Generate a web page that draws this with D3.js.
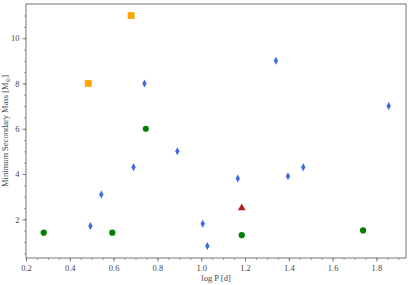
<!DOCTYPE html>
<html>
<head>
<meta charset="utf-8">
<script src="https://cdn.jsdelivr.net/npm/d3@7"></script>
<style>
  body { margin: 0; background: #fff; }
  text { font-family: "Liberation Serif", "DejaVu Serif", serif; }
</style>
</head>
<body>
<div id="chart"></div>
<script>
// binaries: log P [d] vs minimum secondary mass
var diamondP = [0.494, 0.544, 0.691, 0.741, 0.891, 1.007, 1.028, 1.167, 1.341, 1.396, 1.466, 1.856];
var diamondM = [1.70, 3.10, 4.30, 8.0, 5.0, 1.80, 0.82, 3.80, 9.0, 3.90, 4.30, 7.0];
var circleP = [0.281, 0.594, 0.747, 1.185, 1.739];
var circleM = [1.41, 1.41, 6.0, 1.30, 1.51];
var squareP = [0.484, 0.680];
var squareM = [8.0, 11.0];
var triangleP = [1.185];
var triangleM = [2.5];

var xTicks = [0.2, 0.4, 0.6, 0.8, 1.0, 1.2, 1.4, 1.6, 1.8];
var yTicks = [2, 4, 6, 8, 10];

function zip(a, b) { return a.map(function(v, i) { return {p: v, m: b[i]}; }); }

var margin = {top: 4, right: 5, bottom: 27, left: 26},
    width = 411 - margin.left - margin.right,
    height = 285 - margin.top - margin.bottom;

var x = d3.scaleLinear().domain([0.2, 1.935]).range([0, width]);
var y = d3.scaleLinear().domain([0.29, 11.51]).range([height, 0]);

var svg = d3.select("#chart").append("svg")
    .attr("width", 411)
    .attr("height", 285)
  .append("g")
    .attr("transform", "translate(" + margin.left + "," + margin.top + ")");

var axisCol = "#666";
var textCol = "#444";

// minor ticks
var xMinor = d3.range(0.2, 1.93, 0.05).map(function(v) { return +v.toFixed(2); });
var yMinor = d3.range(0.5, 11.5, 0.5).map(function(v) { return +v.toFixed(1); });

svg.append("g")
    .attr("transform", "translate(0," + height + ")")
    .call(d3.axisBottom(x).tickValues(xMinor).tickSize(2).tickFormat(""))
    .call(function(g) { g.select(".domain").remove(); g.selectAll("line").attr("stroke", axisCol).attr("stroke-width", 0.6); });

svg.append("g")
    .call(d3.axisLeft(y).tickValues(yMinor).tickSize(2).tickFormat(""))
    .call(function(g) { g.select(".domain").remove(); g.selectAll("line").attr("stroke", axisCol).attr("stroke-width", 0.6); });

// major ticks
svg.append("g")
    .attr("transform", "translate(0," + height + ")")
    .call(d3.axisBottom(x).tickValues(xTicks).tickSize(3.5).tickPadding(3).tickFormat(d3.format(".1f")))
    .call(function(g) {
        g.select(".domain").remove();
        g.selectAll("line").attr("stroke", axisCol).attr("stroke-width", 0.8);
        g.selectAll("text").attr("fill", textCol).style("font-size", "8.5px").style("font-family", "Liberation Serif, serif");
    });

svg.append("g")
    .call(d3.axisLeft(y).tickValues(yTicks).tickSize(3.5).tickPadding(3).tickFormat(d3.format("d")))
    .call(function(g) {
        g.select(".domain").remove();
        g.selectAll("line").attr("stroke", axisCol).attr("stroke-width", 0.8);
        g.selectAll("text").attr("fill", textCol).style("font-size", "8.5px").style("font-family", "Liberation Serif, serif");
    });

// frame
svg.append("rect")
    .attr("width", width)
    .attr("height", height)
    .attr("fill", "none")
    .attr("stroke", axisCol)
    .attr("stroke-width", 0.9);

// markers
svg.selectAll(".sq")
    .data(zip(squareP, squareM))
  .enter().append("path")
    .attr("class", "sq")
    .attr("d", d3.symbol().type(d3.symbolSquare).size(46))
    .attr("transform", function(d) { return "translate(" + x(d.p) + "," + y(d.m) + ")"; })
    .attr("fill", "#FFA500");

svg.selectAll(".ci")
    .data(zip(circleP, circleM))
  .enter().append("circle")
    .attr("class", "ci")
    .attr("cx", function(d) { return x(d.p); })
    .attr("cy", function(d) { return y(d.m); })
    .attr("r", 3.1)
    .attr("fill", "#008000");

svg.selectAll(".tr")
    .data(zip(triangleP, triangleM))
  .enter().append("path")
    .attr("class", "tr")
    .attr("d", d3.symbol().type(d3.symbolTriangle).size(26))
    .attr("transform", function(d) { return "translate(" + x(d.p) + "," + y(d.m) + ")"; })
    .attr("fill", "#B22222");

// thin diamonds
svg.selectAll(".di")
    .data(zip(diamondP, diamondM))
  .enter().append("path")
    .attr("class", "di")
    .attr("d", "M0,-4L2.2,0L0,4L-2.2,0Z")
    .attr("transform", function(d) { return "translate(" + x(d.p) + "," + y(d.m) + ")"; })
    .attr("fill", "#4169E1");

// axis labels
svg.append("text")
    .attr("x", width / 2)
    .attr("y", height + 23)
    .attr("text-anchor", "middle")
    .attr("fill", textCol)
    .style("font-size", "8.5px")
    .text("log P [d]");

var yl = svg.append("text")
    .attr("transform", "translate(-18," + (height / 2) + ") rotate(-90)")
    .attr("text-anchor", "middle")
    .attr("fill", textCol)
    .style("font-size", "8.5px");
yl.append("tspan").text("Minimum Secondary Mass [M");
yl.append("tspan").attr("dy", 1.5).style("font-size", "5.5px").text("\u2299");
yl.append("tspan").attr("dy", -1.5).text("]");
</script>
</body>
</html>
